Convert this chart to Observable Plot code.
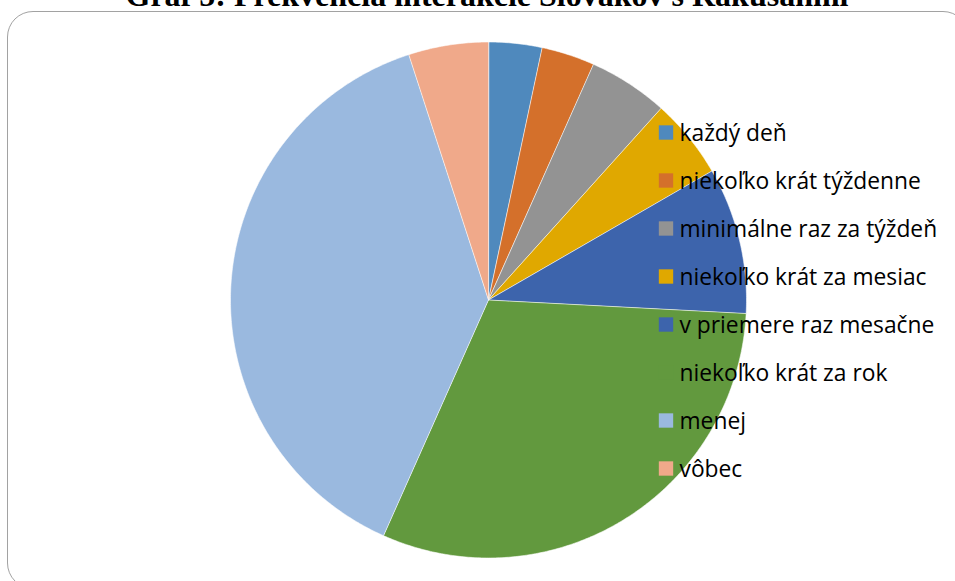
<!DOCTYPE html>
<html>
<head>
<meta charset="utf-8">
<script src="https://cdn.jsdelivr.net/npm/d3@7"></script>
<script src="https://cdn.jsdelivr.net/npm/@observablehq/plot@0.6"></script>
<style>
  html, body { margin: 0; padding: 0; background: white; }
  body { width: 955px; height: 581px; overflow: hidden; position: relative; }
  #title { position: absolute; left: 487px; top: -21px; transform: translateX(-50%);
           white-space: nowrap; font-family: "Liberation Serif", serif; font-weight: bold;
           font-size: 32px; line-height: 32px; color: #000; }
  #frame { position: absolute; left: 7px; top: 11px; width: 962px; height: 578px;
           border: 1.6px solid #a2a2a2; border-radius: 26px; box-sizing: border-box; }
  #pie, #legend { position: absolute; left: 0; top: 0; }
</style>
</head>
<body>
<div id="frame"></div>
<div id="title">Graf 5: Frekvencia interakcie Slovákov s Rakúšanmi</div>
<div id="pie"></div>
<div id="legend"></div>
<script>
const categories = [
  "každý deň",
  "niekoľko krát týždenne",
  "minimálne raz za týždeň",
  "niekoľko krát za mesiac",
  "v priemere raz mesačne",
  "niekoľko krát za rok",
  "menej",
  "vôbec"
];
const counts = [4, 4, 6, 6, 11, 37, 46, 6];
const colors = ["#4F89BD", "#D4702B", "#939393", "#E0A800", "#3D64AC", "#62993E", "#9AB9DF", "#F0A98A"];

const data = categories.map((c, i) => ({cat: c, value: counts[i]}));
const arcs = d3.pie().sort(null).value(d => d.value)(data);

// polygon points for each slice (unit circle, clockwise from 12 o'clock)
const pts = [];
for (const a of arcs) {
  const cat = a.data.cat;
  pts.push({cat, x: 0, y: 0});
  const n = Math.max(2, Math.ceil((a.endAngle - a.startAngle) / (Math.PI / 360)));
  for (let k = 0; k <= n; k++) {
    const t = a.startAngle + (a.endAngle - a.startAngle) * k / n;
    pts.push({cat, x: Math.sin(t), y: Math.cos(t)});
  }
}

const color = {type: "ordinal", domain: categories, range: colors};

const pie = Plot.plot({
  width: 955, height: 581, margin: 0,
  style: {background: "transparent"},
  x: {domain: [-1, 1], range: [230, 746], axis: null},
  y: {domain: [-1, 1], range: [557.5, 41.5], axis: null},
  color,
  marks: [
    Plot.line(pts, {x: "x", y: "y", z: "cat", fill: "cat", stroke: "white", strokeWidth: 0.8, strokeOpacity: 0.7, curve: "linear-closed"})
  ]
});
document.getElementById("pie").appendChild(pie);

const legend = Plot.plot({
  width: 955, height: 581, margin: 0,
  style: {background: "transparent", overflow: "visible"},
  x: {domain: [0, 1], range: [665.5, 700], axis: null},
  y: {type: "point", domain: categories, range: [131.5, 469], padding: 0, axis: null},
  color,
  marks: [
    Plot.dot(data, {x: () => 0, y: "cat", fill: "cat", symbol: "square", r: 8.1}),
    Plot.text(data, {x: () => 0, y: "cat", text: "cat", dx: 13.5, dy: 1, textAnchor: "start",
      fill: "black", fontSize: 22.8, fontFamily: "Open Sans"})
  ]
});
document.getElementById("legend").appendChild(legend);
</script>
</body>
</html>
